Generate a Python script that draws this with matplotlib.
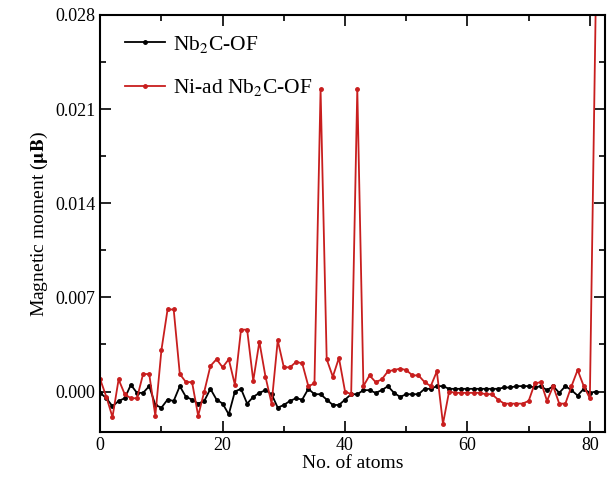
import numpy as np
import matplotlib.pyplot as plt
from matplotlib.ticker import MultipleLocator

# momentos magneticos (indice de atomo 0..81)
atomos = np.arange(82)

nb2c_of = [-0.0001, -0.0005, -0.0011, -0.0007, -0.0005, 0.0005, -0.0001, -0.0001, 0.0004, -0.0010,
           -0.0012, -0.0006, -0.0007, 0.0004, -0.0004, -0.0006, -0.0009, -0.0007, 0.0002, -0.0006,
           -0.0009, -0.0017, 0.0000, 0.0002, -0.0009, -0.0004, -0.0001, 0.0001, -0.0002, -0.0012,
           -0.0010, -0.0007, -0.0005, -0.0006, 0.0002, -0.0002, -0.0002, -0.0006, -0.0010, -0.0010,
           -0.0006, -0.0002, -0.0002, 0.0001, 0.0001, -0.0001, 0.0001, 0.0004, -0.0001, -0.0004,
           -0.0002, -0.0002, -0.0002, 0.0002, 0.0002, 0.0004, 0.0004, 0.0002, 0.0002, 0.0002,
           0.0002, 0.0002, 0.0002, 0.0002, 0.0002, 0.0002, 0.0003, 0.0003, 0.0004, 0.0004,
           0.0004, 0.0003, 0.0004, 0.0001, 0.0004, -0.0001, 0.0004, 0.0001, -0.0003, 0.0002,
           -0.0001, 0.0000]

ni_nb2c_of = [0.0009, -0.0004, -0.0019, 0.0009, -0.0002, -0.0005, -0.0005, 0.0013, 0.0013, -0.0018,
              0.0031, 0.0061, 0.0061, 0.0013, 0.0007, 0.0007, -0.0018, 0.0000, 0.0019, 0.0024,
              0.0018, 0.0024, 0.0005, 0.0046, 0.0046, 0.0008, 0.0037, 0.0011, -0.0009, 0.0038,
              0.0018, 0.0018, 0.0022, 0.0021, 0.0004, 0.0006, 0.0225, 0.0024, 0.0011, 0.0025,
              0.0000, -0.0002, 0.0225, 0.0004, 0.0012, 0.0007, 0.0009, 0.0015, 0.0016, 0.0017,
              0.0016, 0.0012, 0.0012, 0.0007, 0.0004, 0.0015, -0.0024, 0.0000, -0.0001, -0.0001,
              -0.0001, -0.0001, -0.0001, -0.0002, -0.0002, -0.0006, -0.0009, -0.0009, -0.0009, -0.0009,
              -0.0007, 0.0006, 0.0007, -0.0007, 0.0004, -0.0009, -0.0009, 0.0004, 0.0016, 0.0004,
              -0.0005, 0.0300]

plt.rcParams['font.family'] = ['Liberation Serif', 'DejaVu Serif']
plt.rcParams['mathtext.fontset'] = 'stix'

fig = plt.figure(figsize=(6.15, 4.82), dpi=100)
ax = fig.add_axes([0.163, 0.104, 0.821, 0.865])

ax.plot(atomos, nb2c_of, '-o', color='black', lw=1.3, ms=2.5, label=r'Nb$_2$C-OF')
ax.plot(atomos, ni_nb2c_of, '-o', color='#c81e1e', lw=1.3, ms=2.5, label=r'Ni-ad Nb$_2$C-OF')

ax.set_xlim(0, 82.5)
ax.set_ylim(-0.003, 0.028)
ax.xaxis.set_major_locator(MultipleLocator(20))
ax.xaxis.set_minor_locator(MultipleLocator(10))
ax.yaxis.set_major_locator(MultipleLocator(0.007))
ax.yaxis.set_minor_locator(MultipleLocator(0.0035))
ax.yaxis.set_major_formatter(plt.FormatStrFormatter('%.3f'))
ax.tick_params(which='both', direction='in', top=True, right=True, labelsize=13, width=1.2)
ax.tick_params(which='major', length=8)
ax.tick_params(which='minor', length=4)
for s in ax.spines.values():
    s.set_linewidth(1.5)

ax.set_xlabel('No. of atoms', fontsize=14, labelpad=1)
ax.set_ylabel(r'Magnetic moment ($\mathbf{\mu B}$)', fontsize=14)
ax.legend(loc='upper left', bbox_to_anchor=(0.05, 0.955), frameon=False, fontsize=15.5,
          handlelength=1.85, handletextpad=0.35, labelspacing=1.05,
          borderaxespad=0, borderpad=0)

fig.savefig('out.png', dpi=100)
